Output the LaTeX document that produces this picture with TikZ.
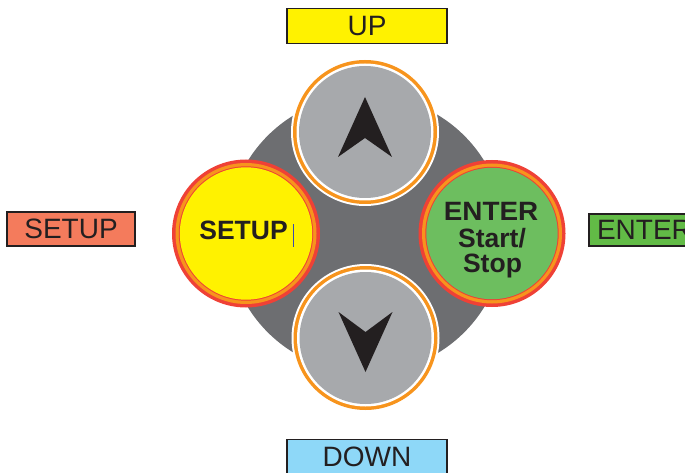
\documentclass[tikz,border=0pt]{standalone}
\usepackage{fontspec}
\setmainfont{Liberation Sans}
\definecolor{discgray}{HTML}{6D6E71}
\definecolor{btngray}{HTML}{A7A9AC}
\definecolor{ringorange}{HTML}{F7941D}
\definecolor{ringred}{HTML}{EF4136}
\definecolor{inkdark}{HTML}{231F20}
\definecolor{upyellow}{HTML}{FFF200}
\definecolor{downblue}{HTML}{8ED8F8}
\definecolor{setupsalmon}{HTML}{F47B5C}
\definecolor{entergreen}{HTML}{62BB46}
\definecolor{btngreen}{HTML}{6DBE5F}
\definecolor{cursorblue}{HTML}{3B4BB0}
\begin{document}
\begin{tikzpicture}[x=1pt,y=-1pt,
  labelbox/.style={draw=inkdark, line width=1.8pt, inner sep=0pt, minimum height=35pt,
    text=inkdark, font=\fontsize{28}{30}\selectfont},
  btntext/.style={text=inkdark, inner sep=0pt, anchor=base,
    font=\bfseries\fontsize{26.5}{26}\selectfont},
  arrowfill/.style={fill=inkdark}]
\useasboundingbox (0,0) rectangle (685,473);
\clip (0,0) rectangle (685,473);
% centres
\coordinate (hub) at (366,234);
\coordinate (upc) at (365,132);
\coordinate (downc) at (365.5,338);
\coordinate (setupc) at (246,233.5);
\coordinate (enterc) at (492,233.5);
% gray disc
\fill[discgray] (hub) circle (139pt);
% up / down buttons
\foreach \c in {upc,downc}{
  \fill[white] (\c) circle (74pt);
  \fill[ringorange] (\c) circle (72pt);
  \fill[white] (\c) circle (68.5pt);
  \fill[btngray] (\c) circle (66pt);
}
\fill[arrowfill, shift={(upc)}] (0,-35) -- (27,25) -- (0,6) -- (-27,25) -- cycle;
\fill[arrowfill, shift={(downc)}] (0,34) -- (27,-26) -- (0,-6) -- (-27,-26) -- cycle;
% setup / enter buttons
\fill[ringred] (setupc) circle (74pt);
\fill[ringorange] (setupc) circle (70.5pt);
\fill[ringred] (setupc) circle (67.2pt);
\fill[upyellow] (setupc) circle (66.2pt);
\fill[ringred] (enterc) circle (73.5pt);
\fill[ringorange] (enterc) circle (70pt);
\fill[ringred] (enterc) circle (66.7pt);
\fill[btngreen] (enterc) circle (65.7pt);
% button texts
\node[btntext] (setuptxt) at (243.5,240) {SETUP};
\draw[cursorblue, line width=1pt] (293,224) -- (293,247);
\node[btntext] (entertxt) at (491,221) {\scalebox{1.05}[1]{ENTER}};
\node[btntext] (starttxt) at (492,247) {Start/};
\node[btntext] (stoptxt) at (492.5,272) {Stop};
% labels
\node[labelbox, fill=upyellow, minimum width=160pt] (uplabel) at (367,26) {UP};
\node[labelbox, fill=downblue, minimum width=160pt] (downlabel) at (367,457) {DOWN};
\node[labelbox, fill=setupsalmon, minimum width=128pt, minimum height=34pt] (setuplabel) at (71,229) {SETUP};
\node[labelbox, fill=entergreen, minimum width=111pt, minimum height=32pt] (enterlabel) at (644.5,230) {ENTER};
\end{tikzpicture}
\end{document}
